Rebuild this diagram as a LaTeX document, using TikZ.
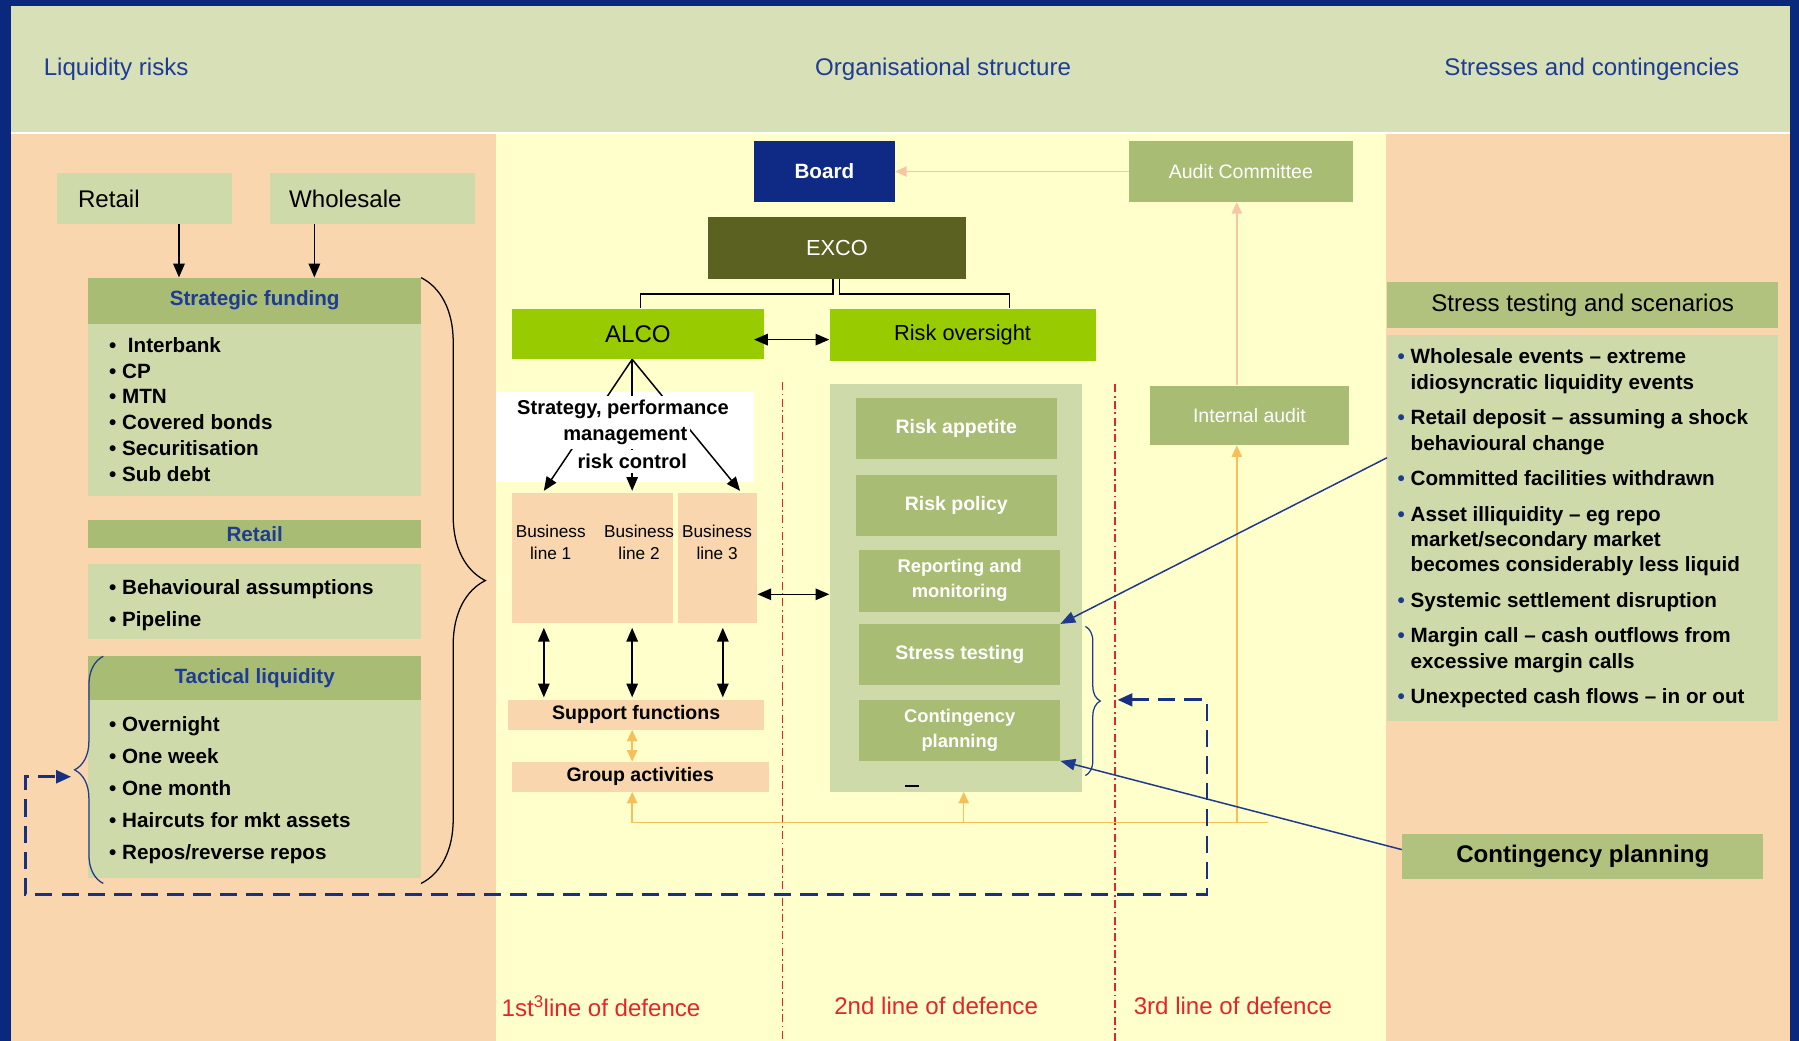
\documentclass[tikz,border=0pt]{standalone}
\usepackage{fontspec}
\setmainfont{Liberation Sans}
\usepackage{tikz}
\usetikzlibrary{arrows.meta}
\usetikzlibrary{decorations.pathreplacing}

\newcommand{\sz}[2]{\fontsize{#1}{#2}\selectfont}
\newcommand{\bul}{\textbullet\ }
\newcommand{\bbul}{\textcolor[RGB]{30,58,140}{\textbullet}\ }
\newcommand{\hang}{\phantom{\textbullet}\ }

\begin{document}
\begin{tikzpicture}[x=1pt,y=-1pt,>={Triangle[length=12pt,width=10pt]},
  plain/.style={inner sep=0pt, align=center},
  bodybox/.style={plain, fill={rgb, 255:red, 206; green, 218; blue, 169}},
  headbox/.style={plain, fill={rgb, 255:red, 169; green, 188; blue, 116}},
  peachbox/.style={plain, fill={rgb, 255:red, 249; green, 214; blue, 174}},
  limebox/.style={plain, fill={rgb, 255:red, 153; green, 204; blue, 0}},
  whitetxt/.style={text=white, font=\bfseries\sz{17}{22}},
  bluetitle/.style={text={rgb, 255:red, 30; green, 60; blue, 148}, font=\bfseries\sz{18}{21}},
  listtxt/.style={inner sep=0pt, align=left, anchor=north west},
  spmtxt/.style={plain, fill=white, inner xsep=2pt, inner ysep=3.5pt, font=\bfseries\sz{17.5}{21}},
  blkline/.style={draw=black, line width=1.3},
  orgline/.style={draw={rgb, 255:red, 247; green, 190; blue, 92}, line width=1.2, >={Triangle[length=10pt,width=9pt]}},
  pchline/.style={draw={rgb, 255:red, 248; green, 198; blue, 162}, line width=1.2, >={Triangle[length=10pt,width=9pt]}},
  linkline/.style={draw={rgb, 255:red, 30; green, 58; blue, 140}, line width=1.3, >={Triangle[length=13pt,width=10pt]}},
  defline/.style={draw={rgb, 255:red, 226; green, 38; blue, 44}, line width=1.4, dash pattern={on 7pt off 3pt on 1.5pt off 3pt}},
  loopline/.style={draw={rgb, 255:red, 24; green, 48; blue, 130}, line width=2.6, dash pattern={on 15pt off 8pt}, >={Triangle[length=13pt,width=11pt]}},
  defence/.style={anchor=west, inner sep=0pt, text={rgb, 255:red, 226; green, 38; blue, 44}, font=\sz{21}{25}},
  hdtxt/.style={inner sep=0pt, text={rgb, 255:red, 30; green, 60; blue, 148}, font=\sz{21}{24}},
]
\useasboundingbox (0,0) rectangle (1568,907);

%Shape: Rectangle - frame and bands
\fill [fill={rgb, 255:red, 10; green, 40; blue, 125}] (0,0) rectangle (1568,907);
\fill [fill=white] (10,5) rectangle (1560,907);
\fill [fill={rgb, 255:red, 215; green, 224; blue, 183}] (10,5) rectangle (1560,115);
\fill [fill={rgb, 255:red, 249; green, 214; blue, 174}] (10,117) rectangle (432,907);
\fill [fill={rgb, 255:red, 255; green, 255; blue, 204}] (432,117) rectangle (1208,907);
\fill [fill={rgb, 255:red, 249; green, 214; blue, 174}] (1208,117) rectangle (1560,907);

% Text Node
\draw (38,60) node (hliq) [anchor=west, hdtxt] {Liquidity risks};
% Text Node
\draw (822,60) node (horg) [hdtxt] {Organisational structure};
% Text Node
\draw (1516,60) node (hstr) [anchor=east, hdtxt] {Stresses and contingencies};

%Straight Lines - lines of defence
\draw [defline] (682,333) -- (682,907);
\draw [defline] (972,335) -- (972,907);

%Shape: Rectangle - left column
\node (retail) [bodybox, minimum width=152, minimum height=44, text width=116, align=left, font=\sz{21}{25}] at (126,173) {Retail};
\node (whole) [bodybox, minimum width=179, minimum height=44, text width=145, align=left, font=\sz{21}{25}] at (324.5,173) {Wholesale};
\node (sfhead) [headbox, minimum width=290, minimum height=40, bluetitle] at (222,262) {Strategic funding};
\node (sfbody) [bodybox, minimum width=290, minimum height=150] at (222,357) {};
\node (rthead) [headbox, minimum width=290, minimum height=25, bluetitle] at (222,465.5) {Retail};
\node (rtbody) [bodybox, minimum width=290, minimum height=65] at (222,524.5) {};
\node (tlhead) [headbox, minimum width=290, minimum height=38, bluetitle] at (222,591) {Tactical liquidity};
\node (tlbody) [bodybox, minimum width=290, minimum height=155] at (222,687.5) {};

% Text Node
\node (sflist) [listtxt, font=\bfseries\sz{18}{22.4}] at (95,294) {\bul\ Interbank\\\bul CP\\\bul MTN\\\bul Covered bonds\\\bul Securitisation\\\bul Sub debt};
% Text Node
\node (rtlist) [listtxt, font=\bfseries\sz{18}{28}] at (95,505) {\bul Behavioural assumptions\\\bul Pipeline};
% Text Node
\node (tllist) [listtxt, font=\bfseries\sz{18}{28}] at (95,624) {\bul Overnight\\\bul One week\\\bul One month\\\bul Haircuts for mkt assets\\\bul Repos/reverse repos};

%Straight Lines
\draw [blkline,->] ([xshift=30]retail.south) -- ([xshift=30]retail.south |- sfhead.north);
\draw [blkline,->] ([xshift=-50.5]whole.south) -- ([xshift=-50.5]whole.south |- sfhead.north);

%Shape: Brace
\draw [black, line width=1.1, decorate, decoration={brace, amplitude=56pt}] (367,242) -- (367,770);
\draw [linkline, line width=1.1, decorate, decoration={brace, amplitude=25pt}] (90,770) -- (90,572);

%Shape: Rectangle - organisation
\node (board) [plain, fill={rgb, 255:red, 14; green, 42; blue, 132}, minimum width=123, minimum height=53, text=white, font=\bfseries\sz{18}{22}] at (718.5,149.5) {Board};
\node (audit) [headbox, minimum width=195, minimum height=53, text=white, font=\sz{17}{22}] at (1081.5,149.5) {Audit Committee};
\node (exco) [plain, fill={rgb, 255:red, 90; green, 97; blue, 33}, minimum width=225, minimum height=54, text=white, font=\sz{19}{22}] at (729.5,216) {EXCO};
\node (alco) [limebox, minimum width=220, minimum height=44, font=\sz{21}{25}] at (556,291) {ALCO};
\node (riskov) [limebox, minimum width=232, minimum height=46, font=\sz{19}{22}] at (839,292) {Risk oversight};
\node (ia) [headbox, minimum width=174, minimum height=52, text=white, font=\sz{17}{22}] at (1089,362) {Internal audit};

%Straight Lines - EXCO links
\draw [blkline, line width=1] ([xshift=-3.5]exco.south) -- ++(0,13) -| ([xshift=2]alco.north);
\draw [blkline, line width=1] ([xshift=2.5]exco.south) -- ++(0,13) -| ([xshift=41]riskov.north);
\draw [blkline,<->] ([xshift=-9,yshift=-5]alco.east) -- ([yshift=-4]riskov.west);

%Shape: Rectangle - business lines
\node (spm) [plain, fill=white, minimum width=225, minimum height=78] at (544.5,381) {};
\node (bla) [peachbox, minimum width=141, minimum height=113] at (516.5,486.5) {};
\node (blb) [peachbox, minimum width=69, minimum height=113] at (625.5,486.5) {};
\draw [blkline,->] ([xshift=-5]alco.south) -- ([xshift=-42.5,yshift=2]bla.north);
\draw [blkline,->] ([xshift=-5]alco.south) -- ([xshift=34.5,yshift=2]bla.north);
\draw [blkline,->] ([xshift=-5]alco.south) -- ([xshift=19.5,yshift=2]blb.north);
% Text Node
\node (spm1) [spmtxt] at (543,357) {Strategy, performance};
\node (spm2) [spmtxt] at (545,380) {management};
\node (spm3) [spmtxt] at (551,402) {risk control};
% Text Node
\node (bl1) [plain, font=\sz{15}{19}] at (480,473) {Business\\line 1};
\node (bl2) [plain, font=\sz{15}{19}] at (557,473) {Business\\line 2};
\node (bl3) [plain, font=\sz{15}{19}] at (625,473) {Business\\line 3};

\node (sup) [peachbox, minimum width=223, minimum height=26, font=\bfseries\sz{17}{20}] at (554.5,623) {Support functions};
\node (grp) [peachbox, minimum width=224, minimum height=26, font=\bfseries\sz{17}{20}] at (558,677) {Group activities};
\draw [blkline,<->, shorten <=4pt, shorten >=2pt] (474,0 |- bla.south) -- (474,0 |- sup.north);
\draw [blkline,<->, shorten <=4pt, shorten >=2pt] (551,0 |- bla.south) -- (551,0 |- sup.north);
\draw [blkline,<->, shorten <=4pt, shorten >=2pt] (630,0 |- blb.south) -- (630,0 |- sup.north);
\draw [orgline,<->] (551,0 |- sup.south) -- (551,0 |- grp.north);

%Shape: Rectangle - second line of defence
\node (cont) [bodybox, minimum width=220, minimum height=355] at (833,512.5) {};
\node (rapp) [headbox, minimum width=175, minimum height=53, whitetxt] at (833.5,373.5) {Risk appetite};
\node (rpol) [headbox, minimum width=175, minimum height=53, whitetxt] at (833.5,440.5) {Risk policy};
\node (rrep) [headbox, minimum width=175, minimum height=54, whitetxt, font=\bfseries\sz{16}{22}] at (836.5,506) {Reporting and\\monitoring};
\node (rstr) [headbox, minimum width=175, minimum height=53, whitetxt] at (836.5,570.5) {Stress testing};
\node (rcon) [headbox, minimum width=175, minimum height=53, whitetxt, font=\bfseries\sz{16}{21}] at (836.5,636.5) {Contingency\\planning};
\draw [line width=2] (789,685) -- (801,685);
\draw [blkline,<->] (blb.east |- 0,518) -- (cont.west |- 0,518);
\draw [linkline, line width=1.1, decorate, decoration={brace, amplitude=13pt}] (946,546) -- (946,676);

%Straight Lines - audit chain
\coordinate (obl) at (551,717);
\coordinate (obr) at (1105,717);
\draw [orgline] (obl) -- (obr);
\draw [orgline,->] (obl) -- (551,0 |- grp.south);
\draw [orgline,->] (840,717) -- (840,0 |- cont.south);
\draw [orgline,->] (1078,717) -- (1078,0 |- ia.south);
\draw [pchline,->] (1078,0 |- ia.north) -- (1078,0 |- audit.south);
\draw [pchline,->] (audit.west) -- (board.east);

%Shape: Rectangle - stresses
\node (sthead) [plain, fill={rgb, 255:red, 176; green, 194; blue, 126}, minimum width=341, minimum height=40, font=\sz{21}{25}] at (1379.5,266) {Stress testing and scenarios};
\node (stbody) [bodybox, minimum width=341, minimum height=336] at (1379.5,460) {};
% Text Node
\node (stlist) [listtxt, font=\bfseries\sz{18}{22}] at (1218,304) {\bbul Wholesale events -- extreme\\\hang idiosyncratic liquidity events\\[9pt]\bbul Retail deposit -- assuming a shock\\\hang behavioural change\\[9pt]\bbul Committed facilities withdrawn\\[9pt]\bbul Asset illiquidity -- eg repo\\\hang market/secondary market\\\hang becomes considerably less liquid\\[9pt]\bbul Systemic settlement disruption\\[9pt]\bbul Margin call -- cash outflows from\\\hang excessive margin calls\\[9pt]\bbul Unexpected cash flows -- in or out};
\node (cpbox) [plain, fill={rgb, 255:red, 176; green, 194; blue, 126}, minimum width=315, minimum height=39, font=\bfseries\sz{21}{25}] at (1379.5,746.5) {Contingency planning};

%Straight Lines - links
\draw [linkline,->] (stbody.west |- 0,399) -- (rstr.north east);
\draw [linkline,->] ([yshift=6]cpbox.west) -- (rcon.south east);

%Straight Lines - feedback loop
\coordinate (lpa) at (974,610);
\coordinate (lpb) at (62,677);
\draw [loopline,<->] (lpa) -- (1052,610) -- (1052,780) -- (22,780) -- (22,677) -- (lpb);

% Text Node
\draw (437,877) node (def1) [defence] {1st\textsuperscript{3}line of defence};
% Text Node
\draw (727,877) node (def2) [defence] {2nd line of defence};
% Text Node
\draw (988,877) node (def3) [defence] {3rd line of defence};

\end{tikzpicture}
\end{document}
